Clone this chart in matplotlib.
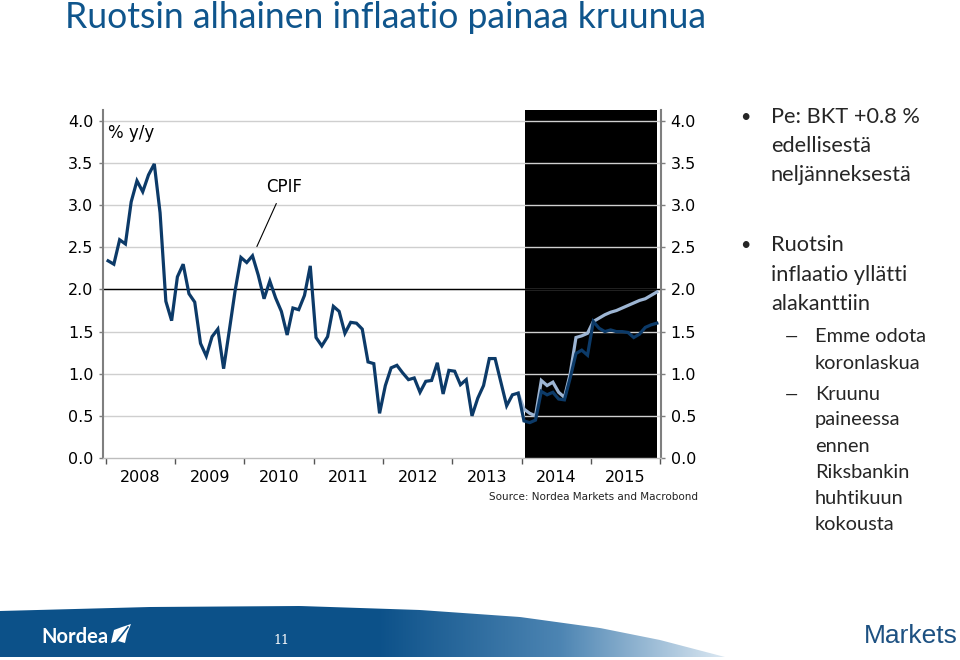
import numpy as np
import matplotlib.pyplot as plt
from matplotlib.patches import Polygon

# CPIF, % y/y, monthly from Jan 2008
cpif = [2.34, 2.30, 2.59, 2.54, 3.04, 3.29, 3.16, 3.36, 3.49, 2.91, 1.86, 1.63,
        2.15, 2.30, 1.95, 1.85, 1.36, 1.21, 1.44, 1.53, 1.06, 1.52, 1.99, 2.38,
        2.32, 2.40, 2.17, 1.89, 2.10, 1.90, 1.74, 1.46, 1.78, 1.76, 1.93, 2.28,
        1.43, 1.33, 1.44, 1.80, 1.74, 1.48, 1.61, 1.60, 1.53, 1.14, 1.12, 0.53,
        0.86, 1.07, 1.10, 1.01, 0.93, 0.95, 0.78, 0.91, 0.92, 1.13, 0.76, 1.04,
        1.03, 0.87, 0.93, 0.50, 0.71, 0.86, 1.18, 1.18, 0.90, 0.62, 0.75, 0.77,
        0.44, 0.42, 0.45, 0.79, 0.75, 0.78, 0.70, 0.69, 0.95, 1.24, 1.28, 1.22,
        1.62, 1.54, 1.50, 1.52, 1.50, 1.50, 1.49, 1.43, 1.47, 1.55, 1.58, 1.60]
# second (lighter) series, starts at month index 71 (Dec 2013)
light_start = 71
light = [0.77, 0.58, 0.53, 0.50, 0.92, 0.86, 0.90, 0.78, 0.72, 1.00, 1.43, 1.45,
         1.48, 1.62, 1.66, 1.70, 1.73, 1.75, 1.78, 1.81, 1.84, 1.87, 1.89, 1.93, 1.97]
years = [2008, 2009, 2010, 2011, 2012, 2013, 2014, 2015]
yticks = [0.0, 0.5, 1.0, 1.5, 2.0, 2.5, 3.0, 3.5, 4.0]
target = 2.0
shade = (2014.05, 2015.95)

x_cpif = 2008 + (np.arange(len(cpif)) + 0.4) / 12
x_light = 2008 + (np.arange(light_start, light_start + len(light)) + 0.4) / 12

W, H = 960, 660
fig = plt.figure(figsize=(9.6, 6.6), dpi=100)


def fx(px):
    return px / W


def fy(py):
    return 1 - py / H


# background axes for footer decoration
bg = fig.add_axes([0, 0, 1, 1], zorder=0)
bg.set_xlim(0, W)
bg.set_ylim(H, 0)
bg.axis('off')

xs = np.linspace(0, 725, 200)
top = np.interp(xs, [0, 150, 300, 420, 520, 600, 660, 725],
                [611, 607, 606, 610, 617, 628, 640, 657])
verts = np.vstack([np.column_stack([xs, top]), [[725, 657], [0, 657]]])
band = Polygon(verts, closed=True, facecolor='none', edgecolor='none')
bg.add_patch(band)
gx = np.linspace(0, W, 960)
c0 = np.array([0.05, 0.32, 0.54])
c1 = np.array([0.30, 0.52, 0.70])
c2 = np.array([0.86, 0.91, 0.95])
cols = np.empty((len(gx), 3))
for k in range(3):
    cols[:, k] = np.interp(gx, [0, 380, 560, 725], [c0[k], c0[k], c1[k], c2[k]])
img = bg.imshow(cols[np.newaxis, :, :], extent=[0, W, 657, 605], aspect='auto')
img.set_clip_path(band)

# Nordea logo (text + small sail)
bg.text(41, 637, 'Nordea', color='white', fontsize=14.5, fontweight='bold',
        family='Lato', va='center', ha='left')
bg.add_patch(Polygon([[114, 630], [122, 627], [131, 624], [127, 634], [125, 643],
                      [118, 641], [111, 643]],
                     closed=True, facecolor='white', edgecolor='none'))
bg.plot([117, 128], [641, 627], color=c0, lw=1.2)
bg.text(281, 640, '11', color='white', fontsize=9, va='center', ha='center',
        family='DejaVu Serif')
bg.text(958, 636, 'Markets', color='#1d5182', fontsize=19, va='center',
        ha='right', family='Liberation Sans')

# title
fig.text(fx(65), fy(18), 'Ruotsin alhainen inflaatio painaa kruunua',
         color='#0f558c', fontsize=25.6, family='Lato', va='center', ha='left')

# right bullet text
txt_col = '#262626'
fs1 = 15.7
fs2 = 14.4
for y, s in [(117, 'Pe: BKT +0.8 %'), (146, 'edellisestä'), (175, 'neljänneksestä'),
             (245, 'Ruotsin'), (275, 'inflaatio yllätti'), (304, 'alakanttiin')]:
    fig.text(fx(771), fy(y), s, fontsize=fs1, family='Lato', color=txt_col, va='center')
for y in [117, 245]:
    fig.text(fx(740), fy(y), '•', fontsize=13, family='Lato', color=txt_col, va='center')
for y, s in [(337, 'Emme odota'), (363, 'koronlaskua'), (395, 'Kruunu'),
             (420, 'paineessa'), (446, 'ennen'), (472, 'Riksbankin'),
             (498, 'huhtikuun'), (524, 'kokousta')]:
    fig.text(fx(815), fy(y), s, fontsize=fs2, family='Lato', color=txt_col, va='center')
for y in [337, 395]:
    fig.text(fx(785), fy(y), '—', fontsize=12, family='Lato', color=txt_col, va='center')

fig.text(fx(698), fy(497), 'Source: Nordea Markets and Macrobond', fontsize=7.5,
         ha='right', va='center', color='#222222')

# chart
ax = fig.add_axes([fx(103), fy(458), fx(661) - fx(103), (458 - 110) / H], zorder=1)
ax.set_facecolor('white')
ax.set_xlim(2007.96, 2016.01)
ax.set_ylim(0, 4.13)

ax.axvspan(shade[0], shade[1], color='black', zorder=1, lw=0)
for v in yticks[1:]:
    ax.axhline(v, color='#cfcfcf', lw=1, zorder=2)
ax.axhline(target, color='black', lw=1, zorder=2.5)

ax.plot(x_light, light, color='#9db5d3', lw=2.3, zorder=3, solid_joinstyle='miter')
ax.plot(x_cpif, cpif, color='#0c3a68', lw=2.3, zorder=4, solid_joinstyle='miter')

ax.text(2008.03, 3.86, '% y/y', fontsize=12, va='center', ha='left')
ax.annotate('CPIF', xy=(2010.18, 2.51), xytext=(2010.57, 3.22), fontsize=12,
            ha='center', va='center',
            arrowprops=dict(arrowstyle='-', color='black', lw=0.8, shrinkA=4, shrinkB=0))

for side in ['left', 'right']:
    ax.spines[side].set_color('#7f7f7f')
    ax.spines[side].set_linewidth(1.5)
ax.spines['top'].set_visible(False)
ax.spines['bottom'].set_color('#bdbdbd')
ax.spines['bottom'].set_linewidth(1)

ax.set_yticks(yticks)
ax.set_yticklabels(['%.1f' % v for v in yticks])
ax.tick_params(axis='y', which='both', left=True, right=True, labelleft=True,
               labelright=True, direction='out', length=3, width=1,
               color='#7f7f7f', labelsize=11.5, pad=4)
ax.set_xticks(years + [2016])
ax.set_xticklabels([])
ax.set_xticks([y + 0.5 for y in years], minor=True)
ax.set_xticklabels([str(y) for y in years], minor=True)
ax.tick_params(axis='x', which='major', direction='out', length=4, width=1,
               color='#555555')
ax.tick_params(axis='x', which='minor', length=0, labelsize=11.5, pad=9)

fig.savefig('out.png', dpi=100)
